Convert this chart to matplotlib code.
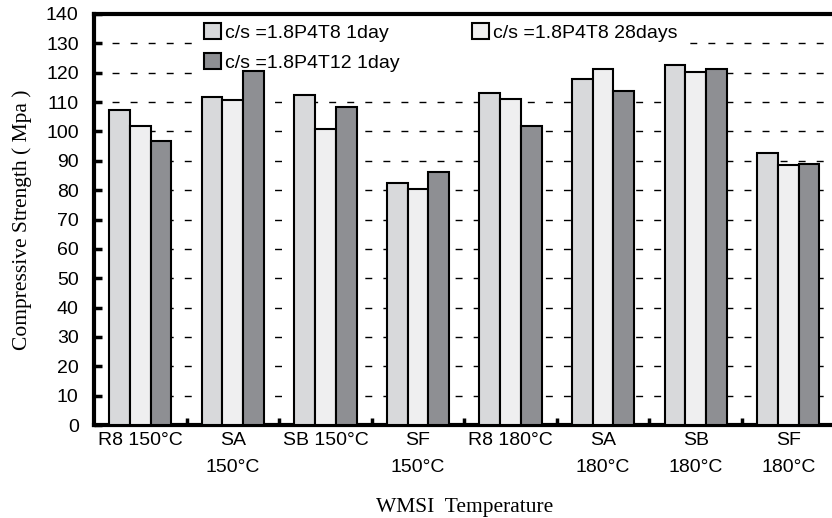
import numpy as np
import matplotlib.pyplot as plt

# data
groups = ["R8 150°C", "SA\n150°C", "SB 150°C", "SF\n150°C",
          "R8 180°C", "SA\n180°C", "SB\n180°C", "SF\n180°C"]
t8_1day = [107.2, 111.7, 112.4, 82.3, 113.2, 117.8, 122.7, 92.7]
t8_28days = [101.8, 110.8, 100.8, 80.4, 111.1, 121.1, 120.2, 88.4]
t12_1day = [96.7, 120.5, 108.4, 86.1, 101.8, 113.6, 121.1, 88.8]
names = ["c/s =1.8P4T8 1day", "c/s =1.8P4T8 28days", "c/s =1.8P4T12 1day"]
colors = ["#d8d9db", "#efeff0", "#8e8f93"]

plt.rcParams['font.family'] = ['Liberation Sans', 'DejaVu Sans']

fig = plt.figure(figsize=(8.32, 5.18), dpi=100)
ax = fig.add_axes([0.113, 0.1795, 0.89, 0.7935])

x = np.arange(len(groups))
w = 0.224
bars = []
for i, (vals, c) in enumerate(zip([t8_1day, t8_28days, t12_1day], colors)):
    b = ax.bar(x + (i - 1) * w, vals, w, color=c, edgecolor="black",
               linewidth=1.5, label=names[i], zorder=3)
    bars.append(b)

ax.set_xlim(-0.5, 7.5)
ax.set_ylim(0, 140)
ax.set_yticks(range(0, 141, 10))
ax.set_xticks(x)
ax.set_xticklabels(groups, fontsize=14, linespacing=1.75, va="top")
ax.set_xticks(np.arange(0.5, 7, 1), minor=True)
ax.tick_params(axis="x", which="major", length=0, pad=5)
ax.tick_params(axis="x", which="minor", direction="in", length=5, width=2.5)
ax.tick_params(axis="y", direction="in", length=6, width=2.5, labelsize=14, pad=11)

for y in range(10, 140, 10):
    ax.axhline(y, color="black", lw=1, linestyle=(0, (5, 8)), zorder=1)

for s in ["left", "top", "bottom"]:
    ax.spines[s].set_linewidth(3)
ax.spines["right"].set_visible(False)

ax.set_ylabel("Compressive Strength ( Mpa )", family="Liberation Serif",
              fontsize=15.5, labelpad=10)
ax.set_xlabel("WMSI  Temperature", family="Liberation Serif", fontsize=15.5,
              labelpad=16)

leg = ax.legend([bars[0], bars[2], bars[1]], [names[0], names[2], names[1]],
                ncol=2, loc="upper left", bbox_to_anchor=(0.125, 1.02),
                fontsize=14, frameon=True, fancybox=False, framealpha=1,
                edgecolor="white", facecolor="white", handlelength=0.85,
                handleheight=0.85, handletextpad=0.25, columnspacing=3.7,
                labelspacing=0.6, borderpad=0.4)
leg.set_zorder(2)

fig.savefig("out.png", dpi=100)
